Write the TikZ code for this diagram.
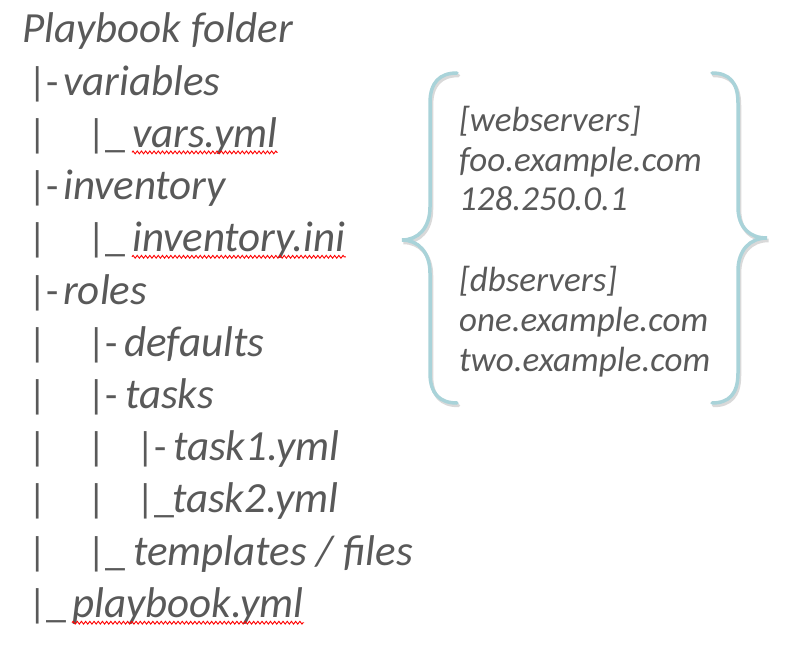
\documentclass[tikz,border=0pt]{standalone}
\usepackage{fontspec}
\setmainfont{Carlito}
\usetikzlibrary{decorations.pathmorphing}
\definecolor{txtgray}{HTML}{595959}
\definecolor{bracecol}{HTML}{A9D3D9}
\newcommand{\treesize}{\fontsize{43bp}{50bp}\selectfont}
\newcommand{\barsize}{\fontsize{40bp}{48bp}\selectfont}
\newcommand{\hostsize}{\fontsize{35bp}{42bp}\selectfont}
\begin{document}
\begin{tikzpicture}[x=1bp,y=-1bp,
  entry/.style={anchor=base west, inner sep=0pt, text=txtgray, font=\treesize\itshape},
  branch/.style={anchor=base west, inner sep=0pt, text=txtgray, font=\barsize},
  hostline/.style={anchor=base west, inner sep=0pt, text=txtgray, font=\hostsize\itshape},
  squiggle/.style={draw=red, line width=.9bp, decorate, decoration={zigzag, amplitude=1.4bp, segment length=4.2bp}},
  bracket/.style={draw=bracecol, line width=3.5bp, line cap=round}]
\useasboundingbox (0,0) rectangle (788,648);
% folder tree
\node[entry] (root) at (22,43) {Playbook folder};
\node[branch] (b1) at (28,95.2) {|-};
\node[entry] (variables) at (63,95.2) {variables};
\node[branch] (b2a) at (28,147.4) {|};
\node[branch] (b2b) at (87,147.4) {|\_};
\node[entry] (vars) at (132,147.4) {vars.yml};
\node[branch] (b3) at (28,199.6) {|-};
\node[entry] (inventory) at (63,199.6) {inventory};
\node[branch] (b4a) at (28,251.8) {|};
\node[branch] (b4b) at (87,251.8) {|\_};
\node[entry] (ini) at (132,251.8) {inventory.ini};
\node[branch] (b5) at (28,304) {|-};
\node[entry] (roles) at (63,304) {roles};
\node[branch] (b6a) at (28,356.2) {|};
\node[branch] (b6b) at (87,356.2) {|-};
\node[entry] (defaults) at (124,356.2) {defaults};
\node[branch] (b7a) at (28,408.4) {|};
\node[branch] (b7b) at (87,408.4) {|-};
\node[entry] (tasks) at (125,408.4) {tasks};
\node[branch] (b8a) at (28,460.6) {|};
\node[branch] (b8b) at (87,460.6) {|};
\node[branch] (b8c) at (136,460.6) {|-};
\node[entry] (task1) at (173,460.6) {task1.yml};
\node[branch] (b9a) at (28,512.8) {|};
\node[branch] (b9b) at (87,512.8) {|};
\node[branch] (b9c) at (136,512.8) {|\_};
\node[entry] (task2) at (172,512.8) {task2.yml};
\node[branch] (b10a) at (28,565) {|};
\node[branch] (b10b) at (87,565) {|\_};
\node[entry] (templates) at (133,565) {templates / files};
\node[branch] (b11) at (28,617.2) {|\_};
\node[entry] (playbook) at (72,617.2) {playbook.yml};
% spell-check marks
\draw[squiggle] ([yshift=-5bp]vars.base west) -- ([yshift=-5bp]vars.base east);
\draw[squiggle] ([yshift=-5bp]ini.base west) -- ([yshift=-5bp]ini.base east);
\draw[squiggle] ([yshift=-5.5bp]playbook.base west) -- ([yshift=-5.5bp]playbook.base east);
% inventory contents
\node[hostline] (web) at (459,132) {[webservers]};
\node[hostline] (foo) at (459,171.5) {foo.example.com};
\node[hostline] (ip) at (459,211) {128.250.0.1};
\node[hostline] (db) at (459,291) {[dbservers]};
\node[hostline] (one) at (459,331) {one.example.com};
\node[hostline] (two) at (459,371) {two.example.com};
% braces
\draw[bracket, draw=black!15, shift={(1.5,2.5)}] (457,73) .. controls (440,73) and (430,82) .. (430,103)
  -- (430,207) .. controls (430,228) and (418,240) .. (402,240)
  .. controls (418,240) and (430,252) .. (430,273) -- (430,373)
  .. controls (430,394) and (440,403) .. (457,403);
\draw[bracket, draw=black!15, shift={(1.5,2.5)}] (712,73) .. controls (729,73) and (738,82) .. (738,103)
  -- (738,207) .. controls (738,228) and (750,238) .. (767,238)
  .. controls (750,238) and (738,250) .. (738,271) -- (738,373)
  .. controls (738,394) and (729,403) .. (712,403);
\draw[bracket] (457,73) .. controls (440,73) and (430,82) .. (430,103)
  -- (430,207) .. controls (430,228) and (418,240) .. (402,240)
  .. controls (418,240) and (430,252) .. (430,273) -- (430,373)
  .. controls (430,394) and (440,403) .. (457,403);
\draw[bracket] (712,73) .. controls (729,73) and (738,82) .. (738,103)
  -- (738,207) .. controls (738,228) and (750,238) .. (767,238)
  .. controls (750,238) and (738,250) .. (738,271) -- (738,373)
  .. controls (738,394) and (729,403) .. (712,403);
\end{tikzpicture}
\end{document}
